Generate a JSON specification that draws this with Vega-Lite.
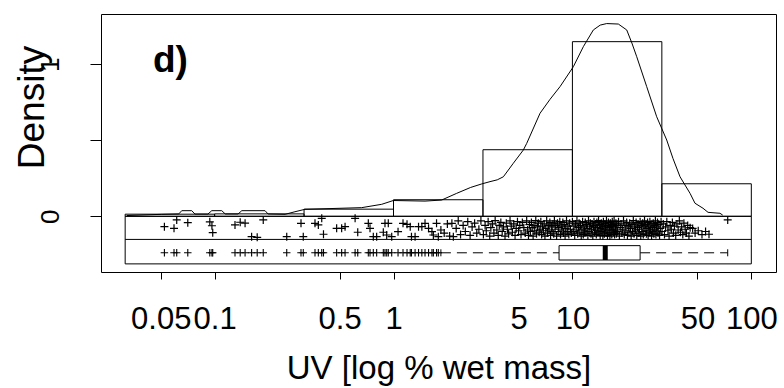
{
"$schema":"https://vega.github.io/schema/vega-lite/v6.json",
"width":675,"height":258,
"autosize":{"type":"none"},
"padding":{"left":101,"top":14,"right":8,"bottom":116},
"background":"white",
"data":{"values":[{"note":"frame"}]},
"datasets":{
"hist":[
{"lo":0.03162,"hi":0.1,"dens":0.014},
{"lo":0.1,"hi":0.3162,"dens":0.016},
{"lo":0.3162,"hi":1,"dens":0.047},
{"lo":1,"hi":3.162,"dens":0.109},
{"lo":3.162,"hi":10,"dens":0.438},
{"lo":10,"hi":31.62,"dens":1.149},
{"lo":31.62,"hi":100,"dens":0.214}
],
"dens":[
{"uv":0.0323,"d":0.005},{"uv":0.0506,"d":0.013},{"uv":0.0631,"d":0.016},{"uv":0.0655,"d":0.037},{"uv":0.0745,"d":0.037},{"uv":0.0776,"d":0.015},{"uv":0.0918,"d":0.015},{"uv":0.0964,"d":0.037},{"uv":0.1096,"d":0.037},{"uv":0.1148,"d":0.015},{"uv":0.1352,"d":0.015},{"uv":0.1419,"d":0.037},{"uv":0.1914,"d":0.037},{"uv":0.1991,"d":0.015},{"uv":0.2477,"d":0.013},{"uv":0.2812,"d":0.030},{"uv":0.3199,"d":0.046},{"uv":0.6637,"d":0.057},{"uv":0.859,"d":0.079},{"uv":0.998,"d":0.104},{"uv":1.50,"d":0.100},{"uv":1.858,"d":0.107},{"uv":2.254,"d":0.151},{"uv":2.7,"d":0.19},{"uv":3.112,"d":0.213},{"uv":3.462,"d":0.228},{"uv":3.8,"d":0.24},{"uv":4.111,"d":0.26},{"uv":4.674,"d":0.349},{"uv":5.316,"d":0.436},{"uv":5.554,"d":0.48},{"uv":6.592,"d":0.678},{"uv":7.5,"d":0.77},{"uv":8.526,"d":0.853},{"uv":10.12,"d":0.984},{"uv":11.51,"d":1.116},{"uv":13.09,"d":1.226},{"uv":14.3,"d":1.258},{"uv":15.55,"d":1.268},{"uv":18.06,"d":1.265},{"uv":20.12,"d":1.226},{"uv":21.5,"d":1.14},{"uv":22.88,"d":1.05},{"uv":26.02,"d":0.853},{"uv":29.59,"d":0.655},{"uv":33.66,"d":0.502},{"uv":36.5,"d":0.38},{"uv":39.96,"d":0.26},{"uv":45.45,"d":0.151},{"uv":48.44,"d":0.086},{"uv":53.7,"d":0.053},{"uv":57.3,"d":0.026},{"uv":66.8,"d":0.02},{"uv":69.2,"d":0.008}
],
"box":[{"lo":1.84,"q1":8.42,"med":15.26,"q3":23.9,"hi":73.8}],
"pts":[
{"uv":0.0524,"jit":-0.068},{"uv":0.0593,"jit":-0.079},{"uv":0.0614,"jit":-0.024},{"uv":0.0708,"jit":-0.042},{"uv":0.094,"jit":-0.036},{"uv":0.0966,"jit":-0.062},{"uv":0.0976,"jit":-0.108},{"uv":0.130,"jit":-0.057},{"uv":0.139,"jit":-0.039},{"uv":0.148,"jit":-0.045},{"uv":0.161,"jit":-0.134},{"uv":0.173,"jit":-0.138},{"uv":0.187,"jit":-0.024},{"uv":0.253,"jit":-0.134},{"uv":0.304,"jit":-0.046},{"uv":0.313,"jit":-0.134},{"uv":0.364,"jit":-0.046},{"uv":0.380,"jit":-0.057},{"uv":0.397,"jit":-0.013},{"uv":0.406,"jit":-0.118},{"uv":0.481,"jit":-0.079},{"uv":0.513,"jit":-0.079},{"uv":0.536,"jit":-0.068},{"uv":0.610,"jit":-0.013},{"uv":0.631,"jit":-0.105},{"uv":0.723,"jit":-0.046},{"uv":0.739,"jit":-0.079},{"uv":0.771,"jit":-0.134},{"uv":0.805,"jit":-0.134},{"uv":0.877,"jit":-0.105},{"uv":0.896,"jit":-0.046},{"uv":0.935,"jit":-0.046},{"uv":0.916,"jit":-0.123},{"uv":0.977,"jit":-0.134},{"uv":1.06,"jit":-0.101},{"uv":1.13,"jit":-0.046},{"uv":1.19,"jit":-0.053},{"uv":1.24,"jit":-0.068},{"uv":1.26,"jit":-0.134},{"uv":1.32,"jit":-0.134},{"uv":1.38,"jit":-0.068},{"uv":1.44,"jit":-0.068},{"uv":1.50,"jit":-0.046},{"uv":1.57,"jit":-0.079},{"uv":1.64,"jit":-0.101},{"uv":1.67,"jit":-0.123},{"uv":1.74,"jit":-0.046},{"uv":1.78,"jit":-0.134},{"uv":1.84,"jit":-0.09},
{"uv":1.92,"jit":-0.11},{"uv":2.0,"jit":-0.05},{"uv":2.06,"jit":-0.13},{"uv":2.12,"jit":-0.046},{"uv":2.16,"jit":-0.134},{"uv":2.24,"jit":-0.08},{"uv":2.3,"jit":-0.03},{"uv":2.37,"jit":-0.12},{"uv":2.45,"jit":-0.06},{"uv":2.52,"jit":-0.1},{"uv":2.6,"jit":-0.035},{"uv":2.68,"jit":-0.125},{"uv":2.75,"jit":-0.07},{"uv":2.84,"jit":-0.045},{"uv":2.92,"jit":-0.11},{"uv":3.0,"jit":-0.085},{"uv":3.08,"jit":-0.03},
{"uv":3.18,"jit":-0.12},{"uv":3.25,"jit":-0.06},{"uv":3.3,"jit":-0.095},{"uv":3.38,"jit":-0.035},{"uv":3.45,"jit":-0.13},{"uv":3.5,"jit":-0.075},{"uv":3.58,"jit":-0.05},{"uv":3.64,"jit":-0.11},{"uv":3.7,"jit":-0.028},{"uv":3.78,"jit":-0.09},{"uv":3.85,"jit":-0.125},{"uv":3.9,"jit":-0.06},{"uv":3.98,"jit":-0.04},{"uv":4.05,"jit":-0.1},{"uv":4.12,"jit":-0.07},{"uv":4.2,"jit":-0.13},{"uv":4.27,"jit":-0.045},{"uv":4.33,"jit":-0.085},{"uv":4.4,"jit":-0.115},{"uv":4.48,"jit":-0.03},{"uv":4.55,"jit":-0.065},{"uv":4.62,"jit":-0.105},{"uv":4.7,"jit":-0.05},{"uv":4.78,"jit":-0.125},{"uv":4.85,"jit":-0.08},{"uv":4.93,"jit":-0.035},{"uv":5.0,"jit":-0.095},{"uv":5.08,"jit":-0.06},{"uv":5.16,"jit":-0.12},{"uv":5.25,"jit":-0.04},{"uv":5.35,"jit":-0.075},{"uv":5.45,"jit":-0.11},
{"uv":5.55,"jit":-0.03},{"uv":5.62,"jit":-0.09},{"uv":5.68,"jit":-0.125},{"uv":5.75,"jit":-0.055},{"uv":5.82,"jit":-0.1},{"uv":5.9,"jit":-0.04},{"uv":5.96,"jit":-0.075},{"uv":6.03,"jit":-0.13},{"uv":6.1,"jit":-0.06},{"uv":6.16,"jit":-0.095},{"uv":6.24,"jit":-0.028},{"uv":6.3,"jit":-0.115},{"uv":6.38,"jit":-0.07},{"uv":6.45,"jit":-0.045},{"uv":6.52,"jit":-0.105},{"uv":6.6,"jit":-0.085},{"uv":6.66,"jit":-0.035},{"uv":6.73,"jit":-0.12},{"uv":6.8,"jit":-0.065},{"uv":6.88,"jit":-0.095},{"uv":6.95,"jit":-0.05},{"uv":7.02,"jit":-0.13},{"uv":7.1,"jit":-0.08},{"uv":7.18,"jit":-0.03},{"uv":7.25,"jit":-0.11},{"uv":7.33,"jit":-0.06},{"uv":7.4,"jit":-0.09},{"uv":7.48,"jit":-0.04},{"uv":7.55,"jit":-0.125},{"uv":7.62,"jit":-0.07},{"uv":7.7,"jit":-0.1},{"uv":7.78,"jit":-0.05},{"uv":7.86,"jit":-0.115},{"uv":7.93,"jit":-0.03},{"uv":8.0,"jit":-0.085},{"uv":8.08,"jit":-0.06},{"uv":8.16,"jit":-0.13},{"uv":8.25,"jit":-0.045},{"uv":8.33,"jit":-0.1},{"uv":8.4,"jit":-0.075},{"uv":8.5,"jit":-0.035},{"uv":8.58,"jit":-0.12},{"uv":8.66,"jit":-0.065},{"uv":8.75,"jit":-0.09},{"uv":8.84,"jit":-0.04},{"uv":8.92,"jit":-0.11},{"uv":9.0,"jit":-0.055},{"uv":9.1,"jit":-0.13},{"uv":9.18,"jit":-0.08},{"uv":9.27,"jit":-0.03},{"uv":9.36,"jit":-0.1},{"uv":9.45,"jit":-0.065},{"uv":9.55,"jit":-0.12},{"uv":9.65,"jit":-0.045},{"uv":9.75,"jit":-0.085},{"uv":9.86,"jit":-0.11},
{"uv":10.0,"jit":-0.035},{"uv":10.1,"jit":-0.1},{"uv":10.2,"jit":-0.065},{"uv":10.3,"jit":-0.125},{"uv":10.4,"jit":-0.05},{"uv":10.5,"jit":-0.09},{"uv":10.6,"jit":-0.03},{"uv":10.7,"jit":-0.115},{"uv":10.8,"jit":-0.075},{"uv":10.9,"jit":-0.045},{"uv":11.0,"jit":-0.105},{"uv":11.1,"jit":-0.06},{"uv":11.2,"jit":-0.13},{"uv":11.3,"jit":-0.085},{"uv":11.4,"jit":-0.035},{"uv":11.5,"jit":-0.12},{"uv":11.6,"jit":-0.07},{"uv":11.7,"jit":-0.095},{"uv":11.8,"jit":-0.04},{"uv":11.9,"jit":-0.11},{"uv":12.0,"jit":-0.055},{"uv":12.1,"jit":-0.08},{"uv":12.2,"jit":-0.125},{"uv":12.3,"jit":-0.03},{"uv":12.4,"jit":-0.1},{"uv":12.5,"jit":-0.065},{"uv":12.6,"jit":-0.045},{"uv":12.7,"jit":-0.115},{"uv":12.8,"jit":-0.085},{"uv":12.9,"jit":-0.05},{"uv":13.0,"jit":-0.13},{"uv":13.1,"jit":-0.07},{"uv":13.2,"jit":-0.035},{"uv":13.3,"jit":-0.105},{"uv":13.4,"jit":-0.06},{"uv":13.5,"jit":-0.09},{"uv":13.6,"jit":-0.12},{"uv":13.7,"jit":-0.04},{"uv":13.8,"jit":-0.075},{"uv":13.9,"jit":-0.11},{"uv":14.0,"jit":-0.028},{"uv":14.1,"jit":-0.095},{"uv":14.2,"jit":-0.055},{"uv":14.3,"jit":-0.125},{"uv":14.4,"jit":-0.08},{"uv":14.5,"jit":-0.045},{"uv":14.6,"jit":-0.1},{"uv":14.7,"jit":-0.065},{"uv":14.8,"jit":-0.13},{"uv":14.9,"jit":-0.035},{"uv":15.0,"jit":-0.085},{"uv":15.1,"jit":-0.115},{"uv":15.2,"jit":-0.05},{"uv":15.3,"jit":-0.07},{"uv":15.4,"jit":-0.105},{"uv":15.5,"jit":-0.03},{"uv":15.6,"jit":-0.09},{"uv":15.7,"jit":-0.125},{"uv":15.8,"jit":-0.06},{"uv":15.9,"jit":-0.04},{"uv":16.0,"jit":-0.11},{"uv":16.1,"jit":-0.075},{"uv":16.2,"jit":-0.13},{"uv":16.3,"jit":-0.045},{"uv":16.4,"jit":-0.095},{"uv":16.5,"jit":-0.065},{"uv":16.6,"jit":-0.12},{"uv":16.7,"jit":-0.035},{"uv":16.8,"jit":-0.085},{"uv":16.9,"jit":-0.055},{"uv":17.0,"jit":-0.105},{"uv":17.1,"jit":-0.03},{"uv":17.2,"jit":-0.12},{"uv":17.3,"jit":-0.07},{"uv":17.4,"jit":-0.09},{"uv":17.5,"jit":-0.045},{"uv":17.6,"jit":-0.115},{"uv":17.7,"jit":-0.06},
{"uv":17.9,"jit":-0.1},{"uv":18.1,"jit":-0.035},{"uv":18.3,"jit":-0.13},{"uv":18.5,"jit":-0.075},{"uv":18.7,"jit":-0.05},{"uv":18.9,"jit":-0.11},{"uv":19.1,"jit":-0.085},{"uv":19.3,"jit":-0.03},{"uv":19.5,"jit":-0.12},{"uv":19.7,"jit":-0.06},{"uv":19.9,"jit":-0.095},{"uv":20.1,"jit":-0.04},{"uv":20.3,"jit":-0.125},{"uv":20.5,"jit":-0.07},{"uv":20.7,"jit":-0.105},{"uv":20.9,"jit":-0.045},{"uv":21.1,"jit":-0.08},{"uv":21.3,"jit":-0.13},{"uv":21.5,"jit":-0.055},{"uv":21.7,"jit":-0.1},{"uv":21.9,"jit":-0.028},{"uv":22.1,"jit":-0.115},{"uv":22.3,"jit":-0.065},{"uv":22.5,"jit":-0.09},{"uv":22.7,"jit":-0.04},{"uv":22.9,"jit":-0.125},{"uv":23.1,"jit":-0.075},{"uv":23.3,"jit":-0.05},{"uv":23.5,"jit":-0.11},{"uv":23.7,"jit":-0.085},{"uv":23.9,"jit":-0.035},{"uv":24.1,"jit":-0.13},{"uv":24.3,"jit":-0.06},{"uv":24.5,"jit":-0.1},{"uv":24.7,"jit":-0.045},{"uv":24.9,"jit":-0.12},{"uv":25.1,"jit":-0.07},{"uv":25.3,"jit":-0.03},{"uv":25.5,"jit":-0.095},{"uv":25.7,"jit":-0.055},{"uv":25.9,"jit":-0.115},{"uv":26.1,"jit":-0.08},{"uv":26.3,"jit":-0.04},{"uv":26.5,"jit":-0.125},{"uv":26.7,"jit":-0.065},{"uv":26.9,"jit":-0.105},{"uv":27.1,"jit":-0.035},{"uv":27.3,"jit":-0.09},{"uv":27.5,"jit":-0.05},{"uv":27.7,"jit":-0.13},{"uv":27.9,"jit":-0.075},{"uv":28.1,"jit":-0.1},{"uv":28.3,"jit":-0.045},{"uv":28.5,"jit":-0.115},{"uv":28.7,"jit":-0.06},{"uv":28.9,"jit":-0.085},{"uv":29.1,"jit":-0.03},{"uv":29.3,"jit":-0.12},{"uv":29.5,"jit":-0.07},{"uv":29.7,"jit":-0.095},{"uv":29.9,"jit":-0.04},{"uv":30.1,"jit":-0.11},{"uv":30.4,"jit":-0.055},{"uv":30.7,"jit":-0.125},{"uv":31.0,"jit":-0.08},{"uv":31.3,"jit":-0.035},
{"uv":31.7,"jit":-0.1},{"uv":32.2,"jit":-0.05},{"uv":32.7,"jit":-0.12},{"uv":33.2,"jit":-0.07},{"uv":33.7,"jit":-0.035},{"uv":34.2,"jit":-0.095},{"uv":34.7,"jit":-0.13},{"uv":35.2,"jit":-0.06},{"uv":35.7,"jit":-0.085},{"uv":36.2,"jit":-0.04},{"uv":36.7,"jit":-0.11},{"uv":37.2,"jit":-0.065},{"uv":37.8,"jit":-0.125},{"uv":38.4,"jit":-0.05},{"uv":39.0,"jit":-0.09},{"uv":39.6,"jit":-0.03},{"uv":40.2,"jit":-0.105},{"uv":40.8,"jit":-0.07},{"uv":41.4,"jit":-0.12},{"uv":42.0,"jit":-0.045},{"uv":42.7,"jit":-0.085},{"uv":43.4,"jit":-0.11},{"uv":44.1,"jit":-0.06},{"uv":44.8,"jit":-0.13},{"uv":45.5,"jit":-0.075},
{"uv":47,"jit":-0.08},{"uv":48.5,"jit":-0.11},{"uv":50.5,"jit":-0.095},{"uv":53,"jit":-0.12},{"uv":55.5,"jit":-0.1},{"uv":58,"jit":-0.118},{"uv":73.8,"jit":-0.024}
]
},
"layer":[
{"data":{"name":"hist"},
 "mark":{"type":"rect","fill":"transparent","stroke":"black","strokeWidth":1},
 "encoding":{
  "x":{"field":"lo","type":"quantitative","title":"UV [log % wet mass]","scale":{"type":"log","domain":[0.02317,137.4],"nice":false,"zero":false},
       "axis":{"title":"UV [log % wet mass]","values":[0.05,0.1,0.5,1,5,10,50,100],"format":"~g","tickSize":7,"labelFontSize":31,"labelBaseline":"alphabetic","labelPadding":49,"labelOverlap":false,"labelFlush":false,"labelBound":false,"titleFontSize":33,"titleBaseline":"alphabetic","titleY":106}},
  "x2":{"field":"hi"},
  "y":{"field":"dens","type":"quantitative","title":"Density","scale":{"domain":[-0.3664,1.331],"nice":false,"zero":false},
       "axis":{"title":"Density","values":[0,0.5,1],"labelExpr":"datum.value == 0.5 ? '' : format(datum.value, '~g')","tickSize":11,"labelAngle":270,"labelAlign":"center","labelBaseline":"alphabetic","labelPadding":32,"labelFontSize":26,"titleFontSize":37,"titleAngle":270,"titleAlign":"center","titleBaseline":"alphabetic","titleX":-57.7,"titleY":93}},
  "y2":{"datum":0}
 }},
{"data":{"name":"dens"},
 "mark":{"type":"line","color":"black","strokeWidth":1},
 "encoding":{
  "x":{"field":"uv","type":"quantitative","title":"UV [log % wet mass]"},
  "y":{"field":"d","type":"quantitative","title":"Density"}
 }},
{"mark":{"type":"rect","fill":"transparent","stroke":"black","strokeWidth":1},
 "encoding":{"x":{"datum":0.03162,"type":"quantitative","title":"UV [log % wet mass]"},"x2":{"datum":100},"y":{"datum":0,"type":"quantitative","title":"Density"},"y2":{"datum":-0.313}}},
{"mark":{"type":"rule","color":"black","strokeWidth":1},
 "encoding":{"x":{"datum":0.03162,"type":"quantitative","title":"UV [log % wet mass]"},"x2":{"datum":100},"y":{"datum":-0.152,"type":"quantitative","title":"Density"}}},
{"data":{"name":"pts"},
 "mark":{"type":"point","shape":"M-1,0L1,0M0,-1L0,1","size":64,"filled":false,"stroke":"black","strokeWidth":1.2,"opacity":1},
 "encoding":{
  "x":{"field":"uv","type":"quantitative","title":"UV [log % wet mass]"},
  "y":{"field":"jit","type":"quantitative","title":"Density"}
 }},
{"data":{"name":"pts"},
 "transform":[{"filter":"datum.uv < 1.84"}],
 "mark":{"type":"point","shape":"M-1,0L1,0M0,-1L0,1","size":56,"filled":false,"stroke":"black","strokeWidth":1.1,"opacity":1},
 "encoding":{
  "x":{"field":"uv","type":"quantitative","title":"UV [log % wet mass]"},
  "y":{"datum":-0.24,"type":"quantitative","title":"Density"}
 }},
{"data":{"name":"box"},
 "mark":{"type":"rule","color":"black","strokeWidth":1,"strokeDash":[10,6]},
 "encoding":{"x":{"field":"lo","type":"quantitative","title":"UV [log % wet mass]"},"x2":{"field":"q1"},"y":{"datum":-0.24,"type":"quantitative","title":"Density"}}},
{"data":{"name":"box"},
 "mark":{"type":"rule","color":"black","strokeWidth":1,"strokeDash":[10,6]},
 "encoding":{"x":{"field":"q3","type":"quantitative","title":"UV [log % wet mass]"},"x2":{"field":"hi"},"y":{"datum":-0.24,"type":"quantitative","title":"Density"}}},
{"data":{"name":"box"},
 "mark":{"type":"rule","color":"black","strokeWidth":1},
 "encoding":{"x":{"field":"lo","type":"quantitative","title":"UV [log % wet mass]"},"y":{"datum":-0.217,"type":"quantitative","title":"Density"},"y2":{"datum":-0.263}}},
{"data":{"name":"box"},
 "mark":{"type":"rule","color":"black","strokeWidth":1},
 "encoding":{"x":{"field":"hi","type":"quantitative","title":"UV [log % wet mass]"},"y":{"datum":-0.217,"type":"quantitative","title":"Density"},"y2":{"datum":-0.263}}},
{"data":{"name":"box"},
 "mark":{"type":"rect","fill":"white","stroke":"black","strokeWidth":1},
 "encoding":{"x":{"field":"q1","type":"quantitative","title":"UV [log % wet mass]"},"x2":{"field":"q3"},"y":{"datum":-0.193,"type":"quantitative","title":"Density"},"y2":{"datum":-0.2875}}},
{"data":{"name":"box"},
 "mark":{"type":"rule","color":"black","strokeWidth":5},
 "encoding":{"x":{"field":"med","type":"quantitative","title":"UV [log % wet mass]"},"y":{"datum":-0.193,"type":"quantitative","title":"Density"},"y2":{"datum":-0.2875}}},
{"mark":{"type":"text","text":"d)","font":"Liberation Sans","fontSize":37,"fontWeight":"bold","align":"left","baseline":"alphabetic","color":"black"},
 "encoding":{"x":{"datum":0.04525,"type":"quantitative","title":"UV [log % wet mass]"},"y":{"datum":0.951,"type":"quantitative","title":"Density"}}}
],
"config":{
 "view":{"stroke":"black","strokeWidth":1},
 "font":"Liberation Sans",
 "axis":{"grid":false,"domain":false,"tickColor":"black","tickWidth":1,"labelColor":"black","titleColor":"black","labelFont":"Liberation Sans","titleFont":"Liberation Sans","titleFontWeight":"normal"}
}
}
